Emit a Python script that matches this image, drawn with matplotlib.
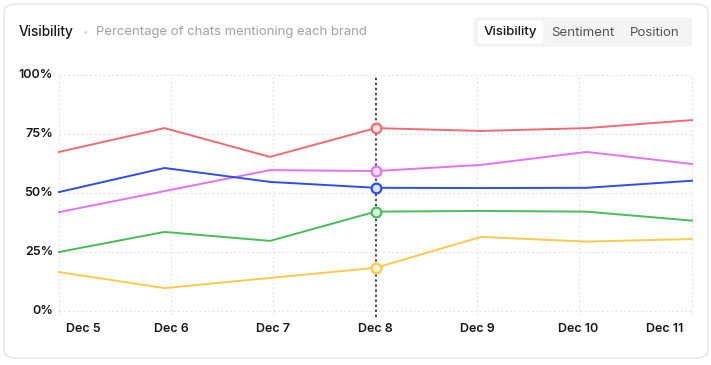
import matplotlib
matplotlib.use("Agg")
import matplotlib.pyplot as plt
from matplotlib.patches import FancyBboxPatch

plt.rcParams['font.family'] = ['Inter', 'DejaVu Sans']

dates = ["Dec 5", "Dec 6", "Dec 7", "Dec 8", "Dec 9", "Dec 10", "Dec 11"]
y_ticks = [0, 25, 50, 75, 100]
y_labels = ["0%", "25%", "50%", "75%", "100%"]

red = [67.4, 77.5, 65.3, 77.5, 76.3, 77.5, 80.9]
magenta = [41.9, 50.8, 59.7, 59.3, 61.9, 67.4, 62.3]
blue = [50.4, 60.6, 54.7, 52.2, 52.1, 52.2, 55.2]
green = [25.0, 33.5, 29.7, 42.1, 42.4, 42.1, 38.3]
yellow = [16.5, 9.7, 14.0, 18.3, 31.4, 29.4, 30.5]

series = [
    (red, "#f06a72", "#fde2e4"),
    (magenta, "#e273f0", "#f9e3fc"),
    (blue, "#2f4cf2", "#dfe4fd"),
    (green, "#46bd5a", "#dff3e2"),
    (yellow, "#fcc94f", "#fff3d6"),
]
hover_idx = 3

W, H = 711, 365
fig = plt.figure(figsize=(W / 100, H / 100), dpi=100)

def fx(px):
    return px / W

def fy(py):
    return 1 - py / H

# card
card = FancyBboxPatch((fx(4), fy(358)), fx(704), 354 / H,
                      boxstyle="round,pad=0,rounding_size=0.02",
                      transform=fig.transFigure, facecolor="white",
                      edgecolor="#e4e4e7", linewidth=1.0, zorder=-5)
fig.patches.append(card)

# title
fig.text(fx(19), fy(32), "Visibility", fontsize=9.8, color="#18181b",
         va="center", ha="left", fontweight="medium")
fig.text(fx(86), fy(32), "•", fontsize=7, color="#d4d4d8", va="center", ha="center")
fig.text(fx(96), fy(32), "Percentage of chats mentioning each brand", fontsize=9.45,
         color="#a1a1aa", va="center", ha="left")

# toggle group
grp = FancyBboxPatch((fx(473), fy(47)), 219 / W, 30 / H,
                     boxstyle="round,pad=0,rounding_size=0.008",
                     transform=fig.transFigure, facecolor="#f4f4f5",
                     edgecolor="none", zorder=-4)
fig.patches.append(grp)
sel = FancyBboxPatch((fx(477), fy(44)), 67 / W, 24 / H,
                     boxstyle="round,pad=0,rounding_size=0.006",
                     transform=fig.transFigure, facecolor="white",
                     edgecolor="#ececee", linewidth=0.5, zorder=-3)
fig.patches.append(sel)
fig.text(fx(510), fy(32.5), "Visibility", fontsize=9.6, color="#18181b",
         va="center", ha="center", fontweight="medium")
fig.text(fx(583), fy(32.5), "Sentiment", fontsize=9.6, color="#52525b",
         va="center", ha="center")
fig.text(fx(655), fy(32.5), "Position", fontsize=9.6, color="#52525b",
         va="center", ha="center")

# plot axes
left_px, right_px, top_px, bot_px = 59, 692, 75, 311
ax = fig.add_axes([fx(left_px), fy(bot_px), (right_px - left_px) / W, (bot_px - top_px) / H])
ax.set_zorder(5)
ax.set_xlim(0, len(dates) - 1)
ax.set_ylim(0, 100)
ax.patch.set_alpha(0)
for s in ax.spines.values():
    s.set_visible(False)
ax.set_xticks([])
ax.set_yticks([])

def px_to_x(px):
    return (px - left_px) / (right_px - left_px) * (len(dates) - 1)

grid_px = [59, 171, 273, 375, 477, 579, 692]
label_px = [83, 171, 273, 375, 477, 578, 665]

for yv in y_ticks:
    ax.plot([0, len(dates) - 1], [yv, yv], color="#e4e4e7", lw=0.9,
            linestyle=(0, (1.5, 2)), zorder=1, clip_on=False)
for gp in grid_px:
    ax.plot([px_to_x(gp)] * 2, [-1.8, 100], color="#e4e4e7", lw=0.9,
            linestyle=(0, (1.5, 2)), zorder=1, clip_on=False)

for yv, lab in zip(y_ticks, y_labels):
    ax.text(-6 / (right_px - left_px), yv, lab, transform=ax.get_yaxis_transform(),
            ha="right", va="center", fontsize=9, color="#18181b", fontweight="semibold")
for lp, lab in zip(label_px, dates):
    ax.text(px_to_x(lp), -7.5, lab, ha="center", va="center", fontsize=9,
            color="#18181b", fontweight="semibold", clip_on=False)

# hover line
ax.plot([hover_idx, hover_idx], [-2.5, 100], color="#18181b", lw=1.1,
        linestyle=(0, (1.5, 1.8)), zorder=2, clip_on=False)

xs = list(range(len(dates)))
for vals, col, fill in series:
    ax.plot(xs, vals, color=col, lw=1.4, zorder=3, clip_on=False,
            solid_joinstyle="round")
    ax.plot([hover_idx], [vals[hover_idx]], marker="o", markersize=7,
            markerfacecolor=fill, markeredgecolor=col, markeredgewidth=1.6,
            zorder=4, clip_on=False)

fig.savefig("out.png", dpi=100)
